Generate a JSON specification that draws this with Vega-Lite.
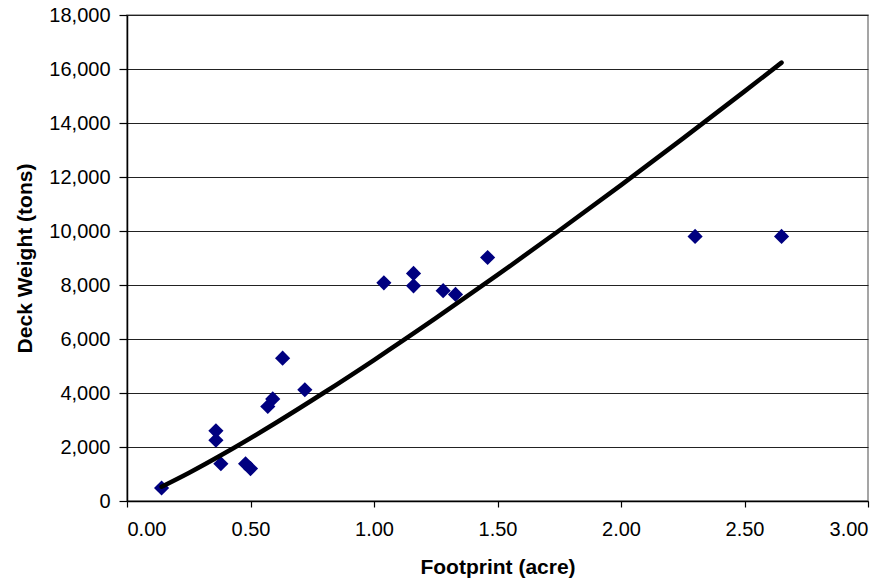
{
  "$schema": "https://vega.github.io/schema/vega-lite/v6.json",
  "width": 741,
  "height": 486,
  "autosize": {"type": "none"},
  "padding": {"left": 127, "top": 15, "right": 26, "bottom": 87},
  "background": "white",
  "config": {
    "font": "Liberation Sans",
    "view": {"stroke": "#888888", "strokeWidth": 1.5},
    "axis": {
      "labelFont": "Liberation Sans",
      "titleFont": "Liberation Sans",
      "labelFontSize": 20,
      "titleFontSize": 21,
      "titleFontWeight": "bold",
      "labelColor": "#000000",
      "titleColor": "#000000",
      "domainColor": "#000000",
      "tickColor": "#000000",
      "gridColor": "#222222",
      "gridWidth": 1,
      "domainWidth": 1.5,
      "tickWidth": 1.2
    }
  },
  "datasets": {
    "pts": [
      {"footprint": 0.14, "weight": 480},
      {"footprint": 0.36, "weight": 2600},
      {"footprint": 0.36, "weight": 2250},
      {"footprint": 0.38, "weight": 1380},
      {"footprint": 0.48, "weight": 1380},
      {"footprint": 0.50, "weight": 1200},
      {"footprint": 0.57, "weight": 3500},
      {"footprint": 0.59, "weight": 3780},
      {"footprint": 0.63, "weight": 5290},
      {"footprint": 0.72, "weight": 4120},
      {"footprint": 1.04, "weight": 8080},
      {"footprint": 1.16, "weight": 8430},
      {"footprint": 1.16, "weight": 7970},
      {"footprint": 1.28, "weight": 7790},
      {"footprint": 1.33, "weight": 7650},
      {"footprint": 1.46, "weight": 9020},
      {"footprint": 2.30, "weight": 9800},
      {"footprint": 2.65, "weight": 9800}
    ],
    "trend": [
      {"footprint": 0.14, "weight": 529},
      {"footprint": 0.25, "weight": 1040},
      {"footprint": 0.40, "weight": 1797},
      {"footprint": 0.60, "weight": 2881},
      {"footprint": 0.80, "weight": 4028},
      {"footprint": 1.00, "weight": 5222},
      {"footprint": 1.25, "weight": 6771},
      {"footprint": 1.50, "weight": 8372},
      {"footprint": 1.75, "weight": 10017},
      {"footprint": 2.00, "weight": 11701},
      {"footprint": 2.25, "weight": 13420},
      {"footprint": 2.50, "weight": 15172},
      {"footprint": 2.65, "weight": 16236}
    ]
  },
  "layer": [
    {
      "data": {"name": "pts"},
      "mark": {"type": "point", "shape": "diamond", "filled": true, "size": 230, "color": "#000080", "opacity": 1},
      "encoding": {
        "x": {
          "field": "footprint", "type": "quantitative",
          "scale": {"domain": [0, 3], "nice": false, "zero": true},
          "axis": {
            "title": "Footprint (acre)",
            "values": [0, 0.5, 1, 1.5, 2, 2.5, 3],
            "format": ".2f",
            "grid": false,
            "tickSize": 6,
            "labelPadding": 12,
            "titlePadding": 17
          }
        },
        "y": {
          "field": "weight", "type": "quantitative",
          "scale": {"domain": [0, 18000], "nice": false},
          "axis": {
            "title": "Deck Weight (tons)",
            "values": [0, 2000, 4000, 6000, 8000, 10000, 12000, 14000, 16000, 18000],
            "format": ",d",
            "grid": true,
            "tickSize": 8,
            "labelPadding": 9,
            "titlePadding": 13
          }
        }
      }
    },
    {
      "data": {"name": "trend"},
      "mark": {"type": "line", "color": "#000000", "strokeWidth": 4.5, "strokeCap": "round", "interpolate": "monotone"},
      "encoding": {
        "x": {"field": "footprint", "type": "quantitative"},
        "y": {"field": "weight", "type": "quantitative"}
      }
    }
  ]
}
